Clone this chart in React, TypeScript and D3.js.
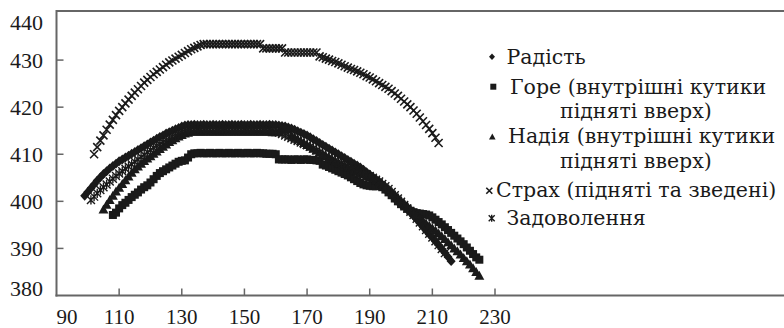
import React from "react";
import * as d3 from "d3";

const xTicks = [90, 110, 130, 150, 170, 190, 210, 230];
const yTicks = [380, 390, 400, 410, 420, 430, 440];

const radistStart = 99;
const radist = [
  401.2, 402.0, 402.8, 403.6, 404.4, 405.1, 405.8, 406.4, 407.0, 407.5,
  408.0, 408.5, 408.9, 409.3, 409.7, 410.1, 410.5, 410.9, 411.3, 411.7,
  412.1, 412.5, 412.9, 413.3, 413.7, 414.0, 414.4, 414.7, 415.0, 415.3,
  415.6, 415.9, 416.1, 416.2, 416.2, 416.3, 416.2, 416.2, 416.3, 416.2,
  416.2, 416.3, 416.2, 416.2, 416.3, 416.2, 416.2, 416.3, 416.2, 416.2,
  416.3, 416.2, 416.2, 416.3, 416.2, 416.2, 416.3, 416.2, 416.2, 416.3,
  416.2, 416.2, 416.1, 416.0, 415.9, 415.7, 415.5, 415.2, 414.9, 414.6,
  414.3, 414.0, 413.6, 413.2, 412.8, 412.4, 412.0, 411.6, 411.2, 410.8,
  410.4, 410.0, 409.6, 409.2, 408.8, 408.4, 408.0, 407.6, 407.2, 406.7,
  406.2, 405.7, 405.2, 404.7, 404.2, 403.6, 403.0, 402.4, 401.8, 401.1,
  400.4, 399.7, 399.0, 398.3, 397.6, 396.9, 396.2, 395.4, 394.6, 393.8,
  393.0, 392.3, 391.5, 390.7, 389.9, 389.1, 388.2, 387.3,
];

const goreStart = 108;
const gore = [
  397.1, 397.6, 398.5, 399.2, 399.7, 400.3, 400.9, 401.4, 401.9, 402.5,
  403.0, 403.4, 404.0, 404.7, 405.4, 406.0, 406.4, 406.8, 407.2, 407.6,
  408.0, 408.4, 408.6, 408.7, 409.3, 410.0, 410.2, 410.2, 410.3, 410.2,
  410.2, 410.3, 410.2, 410.2, 410.3, 410.2, 410.2, 410.3, 410.2, 410.2,
  410.3, 410.2, 410.2, 410.3, 410.2, 410.2, 410.3, 410.2, 410.2, 410.1,
  410.1, 410.1, 410.0, 408.9, 408.9, 408.9, 408.9, 408.8, 408.9, 408.9,
  408.8, 408.9, 408.9, 408.8, 408.8, 408.7, 408.6, 407.8, 407.6, 407.3,
  407.0, 406.7, 406.4, 406.1, 405.8, 405.5, 405.1, 404.7, 404.3, 403.9,
  403.6, 403.4, 403.3, 403.2, 403.2, 403.3, 403.0, 402.5, 401.9, 401.3,
  400.6, 400.0, 399.4, 398.9, 398.4, 398.0, 397.7, 397.5, 397.4, 397.3,
  397.2, 397.0, 396.6, 396.1, 395.6, 395.1, 394.5, 393.9, 393.3, 392.7,
  392.1, 391.5, 390.9, 390.2, 389.5, 388.8, 388.1, 387.6,
];

const nadiyaStart = 105;
const nadiya = [
  398.3, 399.3, 400.3, 401.2, 402.1, 402.9, 403.7, 404.5, 405.3, 406.1,
  406.8, 407.4, 408.0, 408.6, 409.1, 409.6, 410.1, 410.6, 411.1, 411.6,
  412.1, 412.6, 413.0, 413.4, 413.8, 414.1, 414.4, 414.6, 414.8, 414.8,
  414.9, 414.8, 414.8, 414.9, 414.8, 414.8, 414.9, 414.8, 414.8, 414.9,
  414.8, 414.8, 414.9, 414.8, 414.8, 414.9, 414.8, 414.8, 414.9, 414.8,
  414.8, 414.9, 414.8, 414.8, 414.7, 414.7, 414.8, 415.4, 415.8, 415.2,
  414.0, 413.6, 413.2, 412.8, 412.4, 412.0, 411.6, 411.2, 410.8, 410.4,
  410.0, 409.6, 409.2, 408.8, 408.4, 408.1, 407.8, 407.5, 407.2, 406.9,
  406.6, 406.3, 406.0, 405.7, 405.4, 405.1, 404.8, 404.5, 404.1, 403.7,
  403.2, 402.6, 402.0, 401.4, 400.8, 400.2, 399.6, 399.0, 398.4, 397.8,
  397.1, 396.4, 395.9, 395.3, 394.8, 394.3, 393.8, 393.2, 392.6, 392.0,
  391.3, 390.7, 390.0, 389.4, 388.7, 388.0, 387.3, 386.6, 385.8, 385.0, 384.2,
];

const strakhStart = 102;
const strakh = [
  410.0, 411.5, 412.9, 414.0, 415.2, 416.3, 417.3, 418.3, 419.2, 420.0,
  420.8, 421.6, 422.4, 423.1, 423.8, 424.5, 425.2, 425.8, 426.4, 427.0,
  427.5, 428.0, 428.5, 429.0, 429.5, 429.9, 430.3, 430.7, 431.1, 431.5,
  431.9, 432.3, 432.6, 432.9, 433.2, 433.4, 433.4, 433.4, 433.4, 433.4,
  433.4, 433.4, 433.4, 433.4, 433.4, 433.4, 433.4, 433.4, 433.4, 433.4,
  433.4, 433.4, 433.4, 433.4, 432.5, 432.5, 432.5, 432.5, 432.5, 432.5,
  432.5, 431.6, 431.6, 431.6, 431.6, 431.6, 431.6, 431.6, 431.6, 431.6,
  431.6, 431.6, 430.8, 430.6, 430.3, 430.1, 429.8, 429.6, 429.3, 429.0,
  428.7, 428.4, 428.1, 427.9, 427.6, 427.3, 427.0, 426.6, 426.3, 425.9,
  425.5, 425.1, 424.7, 424.3, 423.9, 423.4, 422.9, 422.4, 421.8, 421.2,
  420.6, 420.0, 419.3, 418.6, 417.8, 417.0, 416.2, 415.4, 414.5, 413.5,
  412.4,
];

const zadovStart = 101;
const zadov = [
  400.3, 401.0, 401.7, 402.4, 403.0, 403.6, 404.2, 404.8, 405.4, 405.9,
  406.4, 406.9, 407.4, 407.9, 408.4, 408.9, 409.4, 409.9, 410.4, 410.9,
  411.4, 411.8, 412.2, 412.6, 413.0, 413.4, 413.7, 414.0, 414.3, 414.6,
  414.8, 415.0, 415.2, 415.2, 415.3, 415.2, 415.2, 415.3, 415.2, 415.2,
  415.3, 415.2, 415.2, 415.3, 415.2, 415.2, 415.3, 415.2, 415.2, 415.3,
  415.2, 415.2, 415.3, 415.2, 415.2, 415.3, 415.2, 415.2, 415.0, 414.8,
  414.6, 414.3, 414.0, 413.7, 413.4, 413.1, 412.8, 412.5, 412.2, 411.9,
  411.6, 411.2, 410.8, 410.4, 410.0, 409.6, 409.3, 409.0, 408.7, 408.4,
  408.1, 407.8, 407.5, 407.2, 406.9, 406.6, 406.3, 406.0, 405.7, 405.4,
  405.0, 404.6, 404.2, 403.7, 403.2, 402.6, 402.0, 401.3, 400.6, 399.9,
  399.2, 398.5, 397.8, 397.1, 396.3, 395.5, 394.7, 393.9, 393.1, 392.3,
  391.5, 390.7, 389.9, 389.0,
];

const seriesNames = [
  "Радість",
  "Горе (внутрішні кутики підняті вверх)",
  "Надія (внутрішні кутики підняті вверх)",
  "Страх (підняті та зведені)",
  "Задоволення",
];

type Kind = "diamond" | "square" | "triangle" | "x" | "star";

const series: { name: string; start: number; values: number[]; kind: Kind }[] = [
  { name: seriesNames[0], start: radistStart, values: radist, kind: "diamond" },
  { name: seriesNames[1], start: goreStart, values: gore, kind: "square" },
  { name: seriesNames[2], start: nadiyaStart, values: nadiya, kind: "triangle" },
  { name: seriesNames[3], start: strakhStart, values: strakh, kind: "x" },
  { name: seriesNames[4], start: zadovStart, values: zadov, kind: "star" },
];

const INK = "#1a1a1a";
const AXIS_FONT = "Liberation Serif, DejaVu Serif, serif";
const LEGEND_FONT = "DejaVu Serif, Liberation Serif, serif";

function Marker({ kind, x, y, s }: { kind: Kind; x: number; y: number; s: number }) {
  const h = s / 2;
  if (kind === "diamond")
    return <path d={`M${x},${y - h * 1.1}L${x + h},${y}L${x},${y + h * 1.1}L${x - h},${y}Z`} fill={INK} />;
  if (kind === "square")
    return <rect x={x - h} y={y - h} width={s} height={s} fill={INK} />;
  if (kind === "triangle")
    return <path d={`M${x},${y - h * 1.1}L${x + h * 1.1},${y + h * 0.9}L${x - h * 1.1},${y + h * 0.9}Z`} fill={INK} />;
  if (kind === "x")
    return (
      <path
        d={`M${x - h},${y - h}L${x + h},${y + h}M${x + h},${y - h}L${x - h},${y + h}`}
        stroke={INK}
        strokeWidth={1.6}
        fill="none"
      />
    );
  return (
    <path
      d={`M${x - h},${y - h}L${x + h},${y + h}M${x + h},${y - h}L${x - h},${y + h}M${x},${y - h * 1.15}L${x},${y + h * 1.15}`}
      stroke={INK}
      strokeWidth={1.4}
      fill="none"
    />
  );
}

export default function App() {
  const W = 784;
  const H = 328;
  const x = d3.scaleLinear().domain([90, 230]).range([56.5, 495]);
  const y = d3.scaleLinear().domain([380, 440]).range([295.5, 13]);
  const axisColor = "#666";

  const markerSize: Record<Kind, number> = { diamond: 9, square: 8, triangle: 9, x: 8, star: 8 };

  const legend: { kind: Kind; mx: number; my: number; lines: { text: string; x: number; y: number }[] }[] = [
    { kind: "diamond", mx: 492, my: 56.7, lines: [{ text: "Радість", x: 506.5, y: 63.5 }] },
    {
      kind: "square",
      mx: 493.3,
      my: 86.7,
      lines: [
        { text: "Горе (внутрішні кутики", x: 510, y: 93.5 },
        { text: "підняті вверх)", x: 560, y: 118 },
      ],
    },
    {
      kind: "triangle",
      mx: 492.3,
      my: 136.7,
      lines: [
        { text: "Надія (внутрішні кутики", x: 508, y: 143 },
        { text: "підняті вверх)", x: 560, y: 168 },
      ],
    },
    { kind: "x", mx: 489.3, my: 190.7, lines: [{ text: "Страх (підняті та зведені)", x: 496, y: 197 }] },
    { kind: "star", mx: 491.7, my: 218.3, lines: [{ text: "Задоволення", x: 506.5, y: 225 }] },
  ];

  return (
    <svg
      width={W}
      height={H}
      style={{ position: "absolute", left: 0, top: 0, background: "#fff" }}
    >
      <rect x={0} y={0} width={W} height={H} fill="#fff" />
      {/* frame */}
      <line x1={56} x2={W} y1={11} y2={11} stroke={axisColor} strokeWidth={2} />
      <line x1={56.5} x2={56.5} y1={10} y2={296.5} stroke={axisColor} strokeWidth={2} />
      <line x1={55.5} x2={W} y1={295.5} y2={295.5} stroke={axisColor} strokeWidth={2} />
      {/* ticks */}
      {xTicks.map((t) => (
        <g key={"xt" + t}>
          {t !== 90 && <line x1={x(t)} x2={x(t)} y1={295.5} y2={288.5} stroke={axisColor} strokeWidth={1.5} />}
          <text
            x={t === 90 ? 67 : x(t)}
            y={323.5}
            textAnchor="middle"
            style={{ fontFamily: AXIS_FONT, fontSize: "21px" }}
            fill={INK}
          >
            {t}
          </text>
        </g>
      ))}
      {yTicks.map((t) => {
        const yy = y(t);
        const ly = Math.min(Math.max(yy, 22.5), 288.5);
        return (
          <g key={"yt" + t}>
            {t !== 380 && t !== 440 && (
              <line x1={56.5} x2={63.5} y1={yy} y2={yy} stroke={axisColor} strokeWidth={1.5} />
            )}
            <text
              x={43}
              y={ly}
              dy="0.35em"
              textAnchor="end"
              style={{ fontFamily: AXIS_FONT, fontSize: "22px" }}
              fill={INK}
            >
              {t}
            </text>
          </g>
        );
      })}
      {/* series */}
      {series.map((s) => (
        <g key={s.name}>
          {s.values.map((v, i) => (
            <Marker key={i} kind={s.kind} x={x(s.start + i)} y={y(v)} s={markerSize[s.kind]} />
          ))}
        </g>
      ))}
      {/* legend */}
      {legend.map((l, i) => (
        <g key={"lg" + i}>
          <Marker kind={l.kind} x={l.mx} y={l.my} s={6} />
          {l.lines.map((ln, j) => (
            <text
              key={j}
              x={ln.x}
              y={ln.y}
              style={{ fontFamily: LEGEND_FONT, fontSize: "20.5px" }}
              fill={INK}
            >
              {ln.text}
            </text>
          ))}
        </g>
      ))}
    </svg>
  );
}
